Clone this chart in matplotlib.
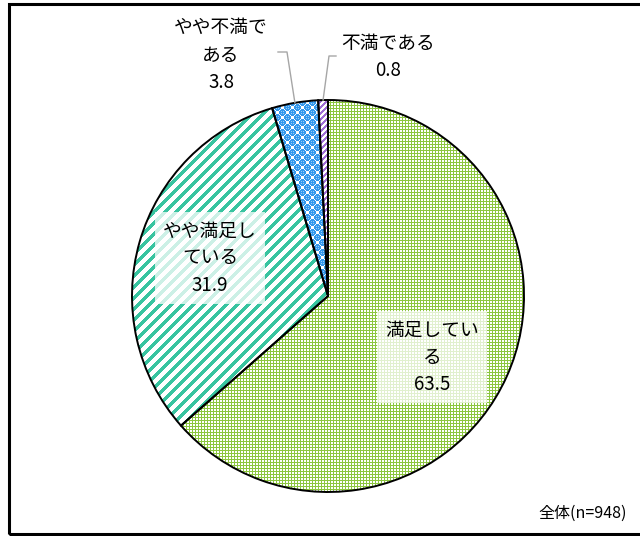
import numpy as np
import matplotlib
matplotlib.use("Agg")
import matplotlib.pyplot as plt
from matplotlib.patches import Rectangle

plt.rcParams['font.family'] = ['Noto Sans CJK JP', 'DejaVu Sans']

# データ（満足度）
labels = ['満足している', 'やや満足している', 'やや不満である', '不満である']
label_text = ['満足してい\nる', 'やや満足し\nている', 'やや不満で\nある', '不満である']
values = [63.5, 31.9, 3.8, 0.8]
note = '全体(n=948)'

W, H = 640, 536
cx, cy, R = 328, 296, 196  # 画像座標（y下向き）


def img_y(y):
    return H - y


# 塗りパターンを作る
yy, xx = np.mgrid[0:H, 0:W]


def two_tone(mask, c_on, c_off=(255, 255, 255)):
    img = np.empty((H, W, 3), dtype=np.uint8)
    img[:] = c_off
    img[mask] = c_on
    return img


green = (140, 198, 63)
teal = (56, 196, 160)
blue = (52, 152, 236)
purple = (160, 110, 214)

pat_green = two_tone(~((xx % 3 >= 1) & (yy % 3 >= 1)), green)
pat_teal = two_tone((xx + yy) % 11 < 5, teal)
# 水玉（チェッカー状）
cell = 5
ci = np.floor(xx / cell)
cj = np.floor(yy / cell)
dist = np.full((H, W), 99.0)
for di in (-1, 0, 1):
    for dj in (-1, 0, 1):
        ii = ci + di
        jj = cj + dj
        ok = ((ii + jj) % 2 == 0)
        d = np.hypot(xx + 0.5 - (ii + 0.5) * cell, yy + 0.5 - (jj + 0.5) * cell)
        dist = np.where(ok, np.minimum(dist, d), dist)
pat_blue = two_tone(dist < 3.6, blue)
pat_blue[(dist > 0.8) & (dist < 1.8) & ((xx + yy) % 2 == 0)] = (150, 205, 250)
pat_purple = two_tone((xx + yy) % 6 < 3, purple)
patterns = [pat_green, pat_teal, pat_blue, pat_purple]

fig = plt.figure(figsize=(6.4, 5.36), dpi=100)
ax = fig.add_axes([0, 0, 1, 1])

wedges, _ = ax.pie(values, startangle=90, counterclock=False,
                   center=(cx, img_y(cy)), radius=R,
                   wedgeprops=dict(linewidth=0, facecolor='none'))
for w, pat in zip(wedges, patterns):
    im = ax.imshow(pat, extent=(0, W, 0, H), origin='upper',
                   interpolation='nearest', zorder=1)
    im.set_clip_path(w)

ax.pie(values, startangle=90, counterclock=False,
       center=(cx, img_y(cy)), radius=R,
       wedgeprops=dict(linewidth=1.4, edgecolor='black', facecolor='none', zorder=3))

ax.set_xlim(0, W)
ax.set_ylim(0, H)
ax.set_aspect('auto')
ax.axis('off')

# 枠
ax.add_patch(Rectangle((8.5, img_y(534)), 700, 530, fill=False,
                       edgecolor='black', linewidth=2.2, zorder=5, clip_on=False))

fs = 13.5
box = dict(boxstyle='square,pad=0.45', facecolor='white', edgecolor='none', alpha=0.75)

# 円の中のラベル
inside_pos = {0: (432, 357), 1: (210, 258)}
for i, (x, y) in inside_pos.items():
    ax.text(x, img_y(y), f'{label_text[i]}\n{values[i]:.1f}', ha='center', va='center',
            fontsize=fs, linespacing=1.38, bbox=box, zorder=6)

# 外側ラベルと引き出し線
cum = np.cumsum([0] + values)
outside = {2: ((221, 55), (278, 52), (287, 52)), 3: ((388, 57), (336, 56), (329, 56))}
for i, ((x, y), p0, p1) in outside.items():
    ax.text(x, img_y(y), f'{label_text[i]}\n{values[i]:.1f}', ha='center', va='center',
            fontsize=fs, linespacing=1.38, zorder=6)
    mid = (cum[i] + cum[i + 1]) / 2 / 100
    ang = np.deg2rad(90 - 360 * mid)
    px = cx + R * np.cos(ang)
    py = cy - R * np.sin(ang)
    ax.plot([p0[0], p1[0], px], [img_y(p0[1]), img_y(p1[1]), img_y(py)],
            color='#a6a6a6', linewidth=1.0, zorder=4)

ax.text(627, img_y(513), note, ha='right', va='center', fontsize=11.5, zorder=6)

fig.savefig('out.png', dpi=100)
